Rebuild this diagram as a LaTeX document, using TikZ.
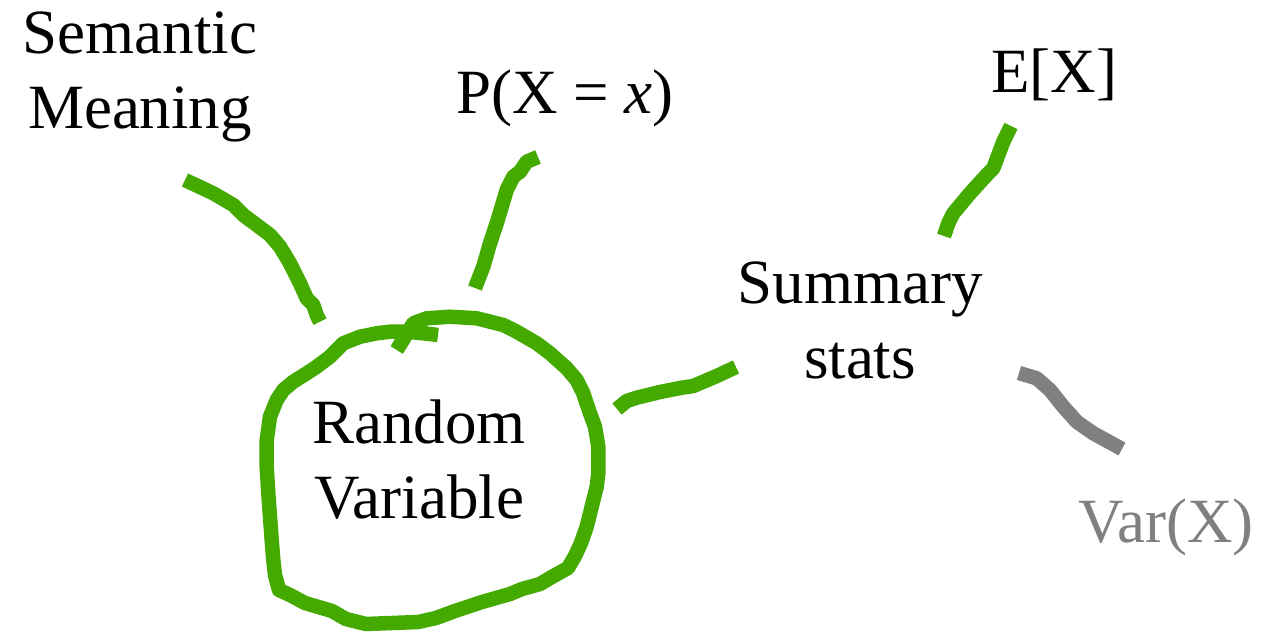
\documentclass[tikz,border=0pt]{standalone}
\usepackage{fontspec}
\setmainfont{Liberation Serif}
\definecolor{strokegreen}{HTML}{44AA00}
\definecolor{strokegray}{HTML}{808080}
\begin{document}
\begin{tikzpicture}[x=1pt,y=-1pt,
  lbl/.style={font=\fontsize{63}{75}\selectfont, inner sep=0pt, outer sep=0pt, align=center, anchor=base},
  pen/.style={line width=14.5pt, line cap=butt, line join=round, draw=strokegreen},
  graypen/.style={pen, draw=strokegray}]
\useasboundingbox (0,0) rectangle (1261,635);
\fill[white] (0,0) rectangle (1261,635);

% labels (base anchor = baseline of the last line)
\node[lbl] (sem) at (140,128) {Semantic\\Meaning};
\node[lbl] (prob) at (565,113) {P(X = \textit{x})};
\node[lbl] (ev) at (1054,92) {E[X]};
\node[lbl] (sum) at (860,378) {Summary\\stats};
\node[lbl] (rv) at (419,518) {Random\\Variable};
\node[lbl, text=strokegray] (var) at (1166,542) {Var(X)};

% circle around Random Variable
\draw[pen] (396.7,350) -- (413.3,323.3) -- (426.7,318.3) -- (450,316.7) -- (476.7,318.3)
  -- (503.3,325) -- (516.7,331.7) -- (536.7,343.3) -- (550,353.3) -- (566.7,368.3)
  -- (576.7,380) -- (583.3,393.3) -- (590,413.3) -- (595,426.7) -- (598.3,446.7)
  -- (598.3,473.3) -- (596.7,486.7) -- (591.7,506.7) -- (586.7,526.7) -- (581,543)
  -- (575,556) -- (568,568) -- (550,578) -- (540,584) -- (522,589)
  -- (510,594) -- (482,602) -- (455,611) -- (436,618) -- (418,622)
  -- (366,624) -- (346,619) -- (332,611) -- (305,603) -- (290,595)
  -- (279,590) -- (275,575) -- (273.3,560) -- (271.7,540) -- (270,516.7)
  -- (268.3,493.3) -- (266.7,466.7) -- (266.7,440) -- (270,416.7) -- (276.7,400)
  -- (283.3,390) -- (293.3,381.7) -- (306.7,373.3) -- (316.7,366.7) -- (330,356.7)
  -- (343.3,343.3) -- (360,336.7) -- (376.7,333.3) -- (390,331.7) -- (406.7,331.7)
  -- (423.3,333.3) -- (438,335);

% Random Variable -- Semantic Meaning
\draw[pen] (185,180) -- (213.3,193.3) -- (233.3,205) -- (243.3,215) -- (256.7,225)
  -- (270,235) -- (280,246.7) -- (290,263.3) -- (300,283.3) -- (306.7,298.3)
  -- (313.3,305) -- (316.7,315) -- (320,321.7);

% Random Variable -- P(X = x)
\draw[pen] (538,157) -- (526.7,161.7) -- (520,171.7) -- (513.3,176.7) -- (506.7,190)
  -- (501.7,206.7) -- (496.7,223.3) -- (490,243.3) -- (483.3,266.7) -- (480,275)
  -- (475,288);

% Random Variable -- Summary stats
\draw[pen] (736,367) -- (716.7,376) -- (693.3,386) -- (680,388) -- (660,392)
  -- (636.7,397.7) -- (626.7,401) -- (617,409);

% Summary stats -- E[X]
\draw[pen] (1011,126) -- (1003.3,141.7) -- (993.3,168.3) -- (986.7,175) -- (970,193.3)
  -- (953.3,213.3) -- (948.3,223.3) -- (944,236);

% Summary stats -- Var(X)
\draw[graypen] (1019,373) -- (1036.7,378.3) -- (1050,390) -- (1063.3,406.7)
  -- (1076.7,421.7) -- (1093.3,433.3) -- (1122,449);
\end{tikzpicture}
\end{document}
